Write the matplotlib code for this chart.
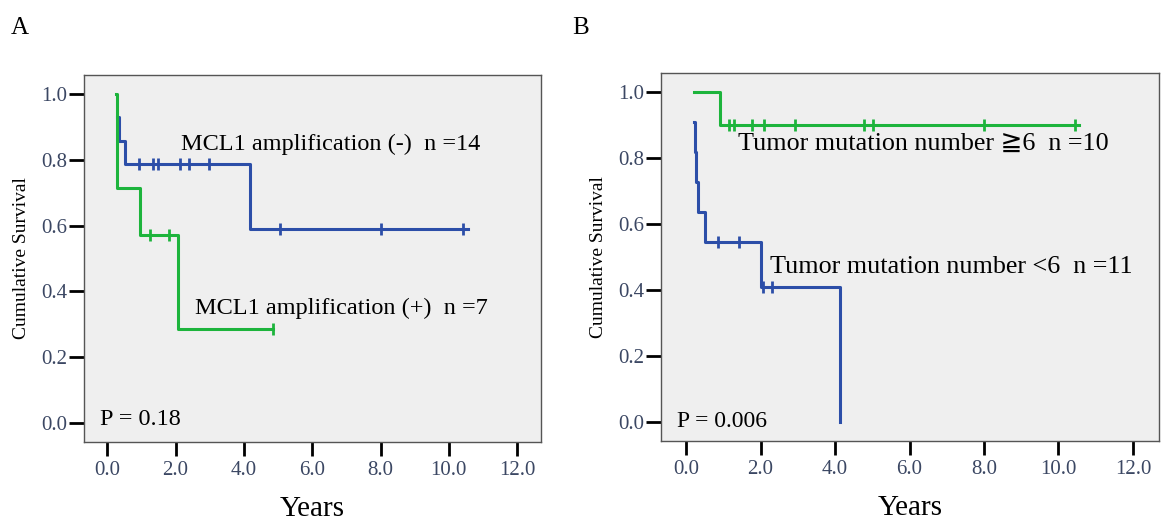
import numpy as np
import matplotlib
matplotlib.use("Agg")
import matplotlib.pyplot as plt

plt.rcParams['font.family'] = ['Liberation Serif', 'DejaVu Serif', 'DejaVu Sans']

# panel A: MCL1 amplification
a_neg_t = [0.28, 0.34, 0.52, 4.18, 10.55]
a_neg_s = [0.929, 0.857, 0.786, 0.589, 0.589]
a_neg_cens_t = [0.92, 1.33, 1.48, 2.14, 2.38, 2.97, 5.05, 8.02, 10.43]
a_neg_cens_s = [0.786, 0.786, 0.786, 0.786, 0.786, 0.786, 0.589, 0.589, 0.589]

a_pos_t = [0.26, 0.27, 0.95, 2.08, 4.86]
a_pos_s = [1.0, 0.714, 0.571, 0.286, 0.286]
a_pos_cens_t = [1.24, 1.81, 4.86]
a_pos_cens_s = [0.571, 0.571, 0.286]

# panel B: tumor mutation number
b_hi_t = [0.22, 0.91, 10.55]
b_hi_s = [1.0, 0.9, 0.9]
b_hi_cens_t = [1.16, 1.29, 1.78, 2.09, 2.92, 4.79, 5.02, 8.0, 10.45]
b_hi_cens_s = [0.9] * 9

b_lo_t = [0.22, 0.23, 0.28, 0.32, 0.52, 2.02, 4.13]
b_lo_s = [0.909, 0.818, 0.727, 0.636, 0.545, 0.409, 0.0]
b_lo_cens_t = [0.86, 1.43, 2.07, 2.31]
b_lo_cens_s = [0.545, 0.545, 0.409, 0.409]

xticks = [0, 2, 4, 6, 8, 10, 12]
yticks = [0.0, 0.2, 0.4, 0.6, 0.8, 1.0]

blue = '#2c4ea8'
green = '#1db43c'
tickcol = '#3b4763'


def km(ax, t, s, ct, cs, color):
    ax.step(t, s, where='post', color=color, lw=2.2)
    ax.plot(ct, cs, ls='none', marker='|', ms=9, mew=2.0, color=color)


def style(ax):
    ax.set_facecolor('#efefef')
    ax.set_xlim(-0.68, 12.7)
    ax.set_ylim(-0.057, 1.057)
    ax.set_xticks(xticks)
    ax.set_xticklabels(['%.1f' % v for v in xticks])
    ax.set_yticks(yticks)
    ax.set_yticklabels(['%.1f' % v for v in yticks])
    ax.tick_params(axis='y', length=11, width=2.0, pad=1, labelsize=15, labelcolor=tickcol)
    ax.tick_params(axis='x', length=10, width=2.0, pad=4, labelsize=15, labelcolor=tickcol)
    for sp in ax.spines.values():
        sp.set_color('#555555')
        sp.set_linewidth(1.0)
    ax.set_xlabel('Years', fontsize=21, labelpad=11)
    ax.set_ylabel('Cumulative Survival', fontsize=14, labelpad=8)


fig = plt.figure(figsize=(11.61, 5.23), dpi=100)
ax1 = fig.add_axes([0.0724, 0.1549, 0.3936, 0.7017])
ax2 = fig.add_axes([0.5691, 0.1568, 0.4292, 0.7036])

km(ax1, a_neg_t, a_neg_s, a_neg_cens_t, a_neg_cens_s, blue)
km(ax1, a_pos_t, a_pos_s, a_pos_cens_t, a_pos_cens_s, green)
style(ax1)
ax1.text(2.16, 0.829, 'MCL1 amplification (-)  n =14', fontsize=17.5, va='baseline')
ax1.text(2.56, 0.330, 'MCL1 amplification (+)  n =7', fontsize=17.5, va='baseline')
ax1.text(-0.22, -0.004, 'P = 0.18', fontsize=17.5, va='baseline')

km(ax2, b_hi_t, b_hi_s, b_hi_cens_t, b_hi_cens_s, green)
km(ax2, b_lo_t, b_lo_s, b_lo_cens_t, b_lo_cens_s, blue)
style(ax2)
ax2.text(1.39, 0.825, 'Tumor mutation number \u22676  n =10', fontsize=18.8, va='baseline')
ax2.text(2.26, 0.453, 'Tumor mutation number <6  n =11', fontsize=18.8, va='baseline')
ax2.text(-0.23, -0.015, 'P = 0.006', fontsize=17, va='baseline')

fig.text(0.009, 0.935, 'A', fontsize=18)
fig.text(0.493, 0.935, 'B', fontsize=18)

fig.savefig('out.png', dpi=100)
